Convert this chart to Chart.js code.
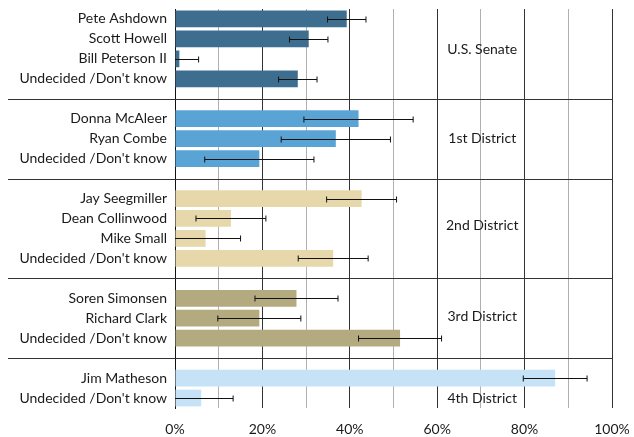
<!DOCTYPE html>
<html>
<head>
<meta charset="utf-8">
<script src="https://cdn.jsdelivr.net/npm/chart.js@4/dist/chart.umd.min.js"></script>
<style>
  html, body { margin: 0; padding: 0; background: #fff; }
  #wrap { width: 634px; height: 437px; }
</style>
</head>
<body>
<div id="wrap"><canvas id="grafico"></canvas></div>
<script>
// dados das pesquisas (percentual e margem de erro por grupo)
const groupNames = ["U.S. Senate", "1st District", "2nd District", "3rd District", "4th District"];
const senateNames = ["Pete Ashdown", "Scott Howell", "Bill Peterson II", "Undecided /Don't know"];
const senateValues = [39.3, 30.6, 1.0, 28.1];
const firstNames = ["Donna McAleer", "Ryan Combe", "Undecided /Don't know"];
const firstValues = [42.0, 36.8, 19.3];
const secondNames = ["Jay Seegmiller", "Dean Collinwood", "Mike Small", "Undecided /Don't know"];
const secondValues = [42.7, 12.8, 7.0, 36.2];
const thirdNames = ["Soren Simonsen", "Richard Clark", "Undecided /Don't know"];
const thirdValues = [27.8, 19.3, 51.5];
const fourthNames = ["Jim Matheson", "Undecided /Don't know"];
const fourthValues = [87.0, 6.0];
const margins = [4.4, 12.5, 8.0, 9.5, 7.3];
const xTicks = [0, 20, 40, 60, 80, 100];

const groupColors = ["#3e6e8f", "#5aa3d5", "#e6d8aa", "#b3aa80", "#c6e2f6"];

const allNames = [senateNames, firstNames, secondNames, thirdNames, fourthNames];
const allValues = [senateValues, firstValues, secondValues, thirdValues, fourthValues];

// monta categorias com uma linha vazia entre os grupos
const labels = [], values = [], errors = [], colors = [], groupOf = [];
allNames.forEach((names, g) => {
  if (g > 0) {
    labels.push(""); values.push(null); errors.push(null); colors.push("transparent"); groupOf.push(-1);
  }
  names.forEach((n, i) => {
    labels.push(n);
    values.push(allValues[g][i]);
    errors.push(margins[g]);
    colors.push(groupColors[g]);
    groupOf.push(g);
  });
});

const FONT = "Lato, 'Open Sans', sans-serif";

const extras = {
  id: "extras",
  afterDatasetsDraw(chart) {
    const ctx = chart.ctx;
    const x = chart.scales.x, y = chart.scales.y;
    const area = chart.chartArea;
    ctx.save();
    // separadores
    ctx.strokeStyle = "#333";
    ctx.lineWidth = 1.2;
    groupOf.forEach((g, i) => {
      if (g !== -1) return;
      const py = Math.round(y.getPixelForValue(i)) + 0.5;
      ctx.beginPath();
      ctx.moveTo(8, py);
      ctx.lineTo(area.right, py);
      ctx.stroke();
    });
    // barras de erro
    ctx.strokeStyle = "#111";
    ctx.lineWidth = 1;
    values.forEach((v, i) => {
      if (v === null) return;
      const py = Math.round(y.getPixelForValue(i)) + 0.5;
      const lo = Math.max(0, v - errors[i]);
      const x1 = x.getPixelForValue(lo), x2 = x.getPixelForValue(v + errors[i]);
      ctx.beginPath();
      ctx.moveTo(x1, py); ctx.lineTo(x2, py);
      if (v - errors[i] >= 0) { ctx.moveTo(x1, py - 3); ctx.lineTo(x1, py + 3); }
      ctx.moveTo(x2, py - 3); ctx.lineTo(x2, py + 3);
      ctx.stroke();
    });
    // nomes dos grupos
    const slots = [1.55, 6, 10.35, 14.9, 19];
    ctx.fillStyle = "#1a1a1a";
    ctx.font = "14px " + FONT;
    ctx.textAlign = "center";
    ctx.textBaseline = "middle";
    groupNames.forEach((name, g) => {
      ctx.fillText(name, x.getPixelForValue(70.3), y.getPixelForValue(slots[g]));
    });
    ctx.restore();
  }
};

new Chart(document.getElementById("grafico"), {
  type: "bar",
  data: {
    labels: labels,
    datasets: [{
      data: values,
      backgroundColor: colors,
      barPercentage: 0.84,
      categoryPercentage: 1
    }]
  },
  options: {
    indexAxis: "y",
    responsive: true,
    maintainAspectRatio: false,
    animation: false,
    layout: { padding: { top: 9, right: 22, left: 0, bottom: 0 } },
    plugins: { legend: { display: false }, tooltip: { enabled: false } },
    scales: {
      x: {
        min: 0, max: 100,
        afterBuildTicks(scale) {
          const t = [];
          for (let v = 0; v <= 100; v += 10) t.push({ value: v });
          scale.ticks = t;
        },
        ticks: {
          callback: v => xTicks.includes(v) ? v + "%" : "",
          color: "#1a1a1a",
          font: { family: FONT, size: 14 },
          padding: 13,
          maxRotation: 0,
          autoSkip: false
        },
        grid: {
          drawTicks: false,
          color: c => (c.tick && c.tick.value % 20 === 0) ? "#333" : "#b0b0b0",
          lineWidth: 1
        },
        border: { display: false },
        afterFit(scale) {
          scale.height = 29;
          scale.paddingLeft = 0;
          scale.paddingRight = 0;
        }
      },
      y: {
        ticks: {
          color: "#1a1a1a",
          font: { family: FONT, size: 14 },
          padding: 8,
          autoSkip: false
        },
        grid: { display: false, drawTicks: false },
        border: { display: true, color: "#111", width: 1 },
        afterFit(scale) {
          scale.width = 175;
          scale.paddingTop = 0;
          scale.paddingBottom = 0;
        }
      }
    }
  },
  plugins: [extras]
});
</script>
</body>
</html>
